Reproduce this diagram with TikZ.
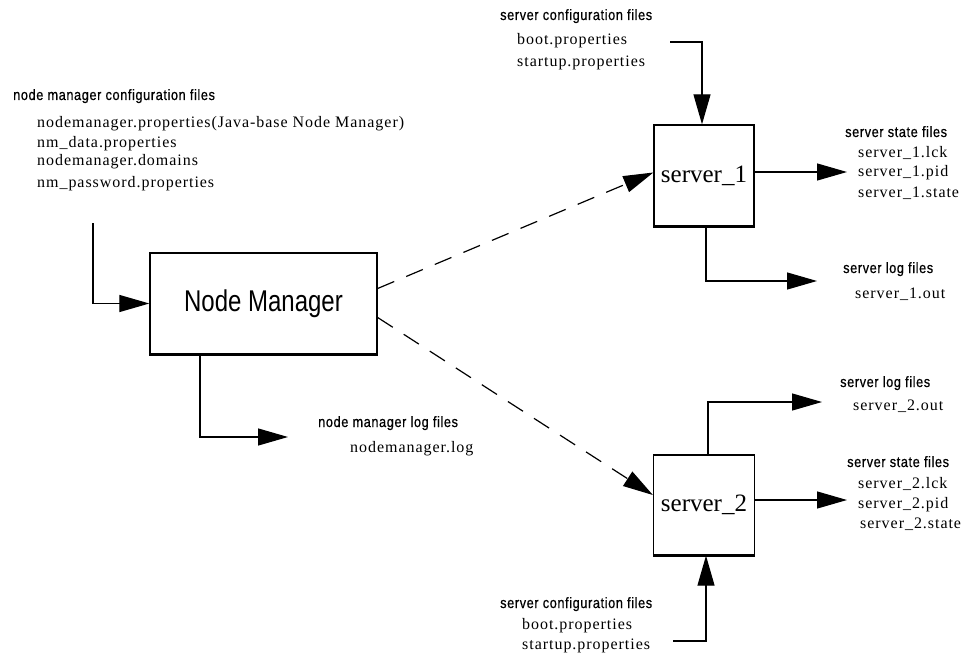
\documentclass[tikz,border=0pt]{standalone}
\usepackage{fontspec}
\setmainfont{Liberation Serif}
\newfontfamily\hdrfont[FakeStretch=0.85,LetterSpace=4,FakeBold=0.6]{Liberation Sans}
\newfontfamily\itmfont[LetterSpace=6]{Liberation Serif}
\newfontfamily\nmfont[FakeStretch=0.8]{Liberation Sans}
\usetikzlibrary{arrows.meta}
\tikzset{
  hdr/.style={font=\hdrfont\fontsize{15}{18}\selectfont, anchor=base west, inner sep=0pt},
  itm/.style={font=\itmfont\fontsize{16}{19}\selectfont, anchor=base west, inner sep=0pt},
  box/.style={draw, line width=1.3pt, inner sep=0pt, fill=white},
  boxbottom/.style={line width=2.6pt},
  arr/.style={line width=1.2pt, -{Triangle[length=30pt,width=17pt]}},
  dasharr/.style={arr, dash pattern=on 18pt off 13pt},
}
\begin{document}
\begin{tikzpicture}[x=1pt,y=-1pt]
\useasboundingbox (0,0) rectangle (966,655);
% boxes
\node[box, minimum width=227pt, minimum height=101pt, font=\nmfont\fontsize{30}{34}\selectfont] (nm) at (263.5,303.5) {Node Manager};
\node[box, minimum width=100pt, minimum height=101pt, font=\rmfamily\fontsize{25}{28}\selectfont] (s1) at (704,175.5) {\raisebox{3pt}{server\_1}};
\node[box, minimum width=101pt, minimum height=100pt, font=\rmfamily\fontsize{25}{28}\selectfont] (s2) at (704,505) {server\_2};
\draw[boxbottom] (nm.south west) -- (nm.south east);
\draw[boxbottom] (s1.south west) -- (s1.south east);
\draw[boxbottom] (s2.south west) -- (s2.south east);

% node manager configuration files
\node[hdr] (nmc) at (13,100) {node manager configuration files};
\node[itm] (nmc1) at (37,128) {nodemanager.properties(Java-base Node Manager)};
\node[itm] (nmc2) at (37,148) {nm\_data.properties};
\node[itm] (nmc3) at (37,166) {nodemanager.domains};
\node[itm] (nmc4) at (37,188) {nm\_password.properties};

% server_1 configuration files
\node[hdr] (c1) at (500,20) {server configuration files};
\node[itm] (c1a) at (517,45) {boot.properties};
\node[itm] (c1b) at (517,67) {startup.properties};

% server_1 state files
\node[hdr] (st1) at (845,137) {server state files};
\node[itm] (st1a) at (858,158) {server\_1.lck};
\node[itm] (st1b) at (858,177) {server\_1.pid};
\node[itm] (st1c) at (858,197) {server\_1.state};

% server_1 log files
\node[hdr] (lg1) at (843,273) {server log files};
\node[itm] (lg1a) at (855,298) {server\_1.out};

% node manager log files
\node[hdr] (nml) at (318,427) {node manager log files};
\node[itm] (nmla) at (350,452) {nodemanager.log};

% server_2 log files
\node[hdr] (lg2) at (840,387) {server log files};
\node[itm] (lg2a) at (853,410) {server\_2.out};

% server_2 state files
\node[hdr] (st2) at (847,467) {server state files};
\node[itm] (st2a) at (858,488) {server\_2.lck};
\node[itm] (st2b) at (858,508) {server\_2.pid};
\node[itm] (st2c) at (860,528) {server\_2.state};

% server_2 configuration files
\node[hdr] (c2) at (500,608) {server configuration files};
\node[itm] (c2a) at (522,629) {boot.properties};
\node[itm] (c2b) at (522,649) {startup.properties};

% free ends
\coordinate (nmin) at (93,223);
\coordinate (nmlog) at (288,437);
\coordinate (s1cfg) at (670,42);
\coordinate (s1st) at (847,172);
\coordinate (s1log) at (817,281);
\coordinate (s2log) at (822,402);
\coordinate (s2st) at (847,500);
\coordinate (s2cfg) at (673,641);

% connectors
\draw[arr] (nmin) |- (nm.west);
\draw[arr] ([xshift=-63.5pt]nm.south) |- (nmlog);
\draw[dasharr] ([yshift=15pt]nm.east) -- ([yshift=3pt]s1.west);
\draw[dasharr] ([yshift=-14pt]nm.east) -- ([yshift=10pt]s2.west);
\draw[arr] (s1cfg) -| ([xshift=-2pt]s1.north);
\draw[arr] (s1.east |- s1st) -- (s1st);
\draw[arr] ([xshift=2pt]s1.south) |- (s1log);
\draw[arr] ([xshift=4pt]s2.north) |- (s2log);
\draw[arr] (s2.east |- s2st) -- (s2st);
\draw[arr] (s2cfg) -| ([xshift=2pt]s2.south);
\end{tikzpicture}
\end{document}
